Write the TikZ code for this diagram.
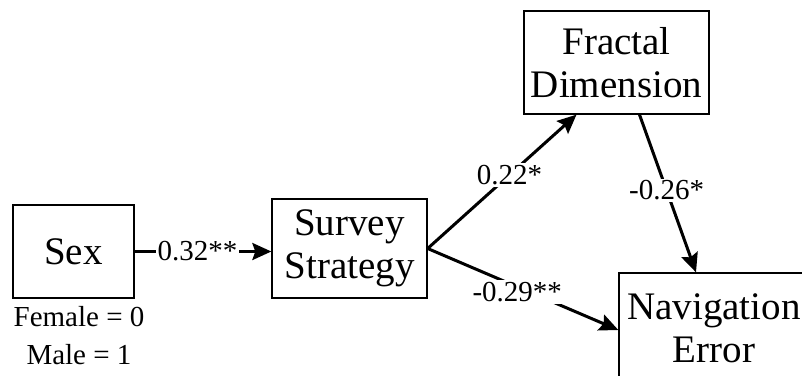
\documentclass[tikz,border=0pt]{standalone}
\usepackage{fontspec}
\setmainfont{Liberation Serif}
\usetikzlibrary{arrows.meta, positioning}
\tikzset{
  var/.style={draw, line width=1.3pt, align=center, inner sep=0pt,
    font=\fontsize{39}{43}\selectfont},
  path arrow/.style={-{Stealth[length=19,width=17,inset=3]}, line width=3pt},
  coef/.style={fill=white, inner sep=2pt, font=\fontsize{29}{30}\selectfont}
}

\begin{document}
\begin{tikzpicture}[x=1pt, y=-1pt]
  \useasboundingbox (0,0) rectangle (802,375);

  % Variables
  \node[var, minimum width=121, minimum height=93] (sex) at (73.5,251.5) {Sex};
  \node[var, minimum width=155, minimum height=99] (survey) at (349.5,248.5) {Survey\\Strategy};
  \node[var, minimum width=185, minimum height=103] (fractal) at (616.5,62.5) {Fractal\\Dimension};
  \node[var, minimum width=190, minimum height=110] (nav) at (714,328) {Navigation\\Error};

  % Coding of sex
  \node[align=center, font=\fontsize{29}{38}\selectfont] (coding) at (79,336) {Female = 0\\Male = 1};

  % Paths
  \draw[path arrow] (sex.east) -- (sex.east -| survey.west)
    node[coef, pos=0.46] {0.32**};
  \draw[path arrow] (survey.east) -- ([xshift=-40]fractal.south)
    node[coef, pos=0.55] {0.22*};
  \draw[path arrow] (survey.east) -- ([yshift=-2]nav.west)
    node[coef, pos=0.47, yshift=-5] {-0.29**};
  \draw[path arrow] ([xshift=23]fractal.south) -- ([xshift=-18]nav.north)
    node[coef, pos=0.48] {-0.26*};
\end{tikzpicture}
\end{document}
